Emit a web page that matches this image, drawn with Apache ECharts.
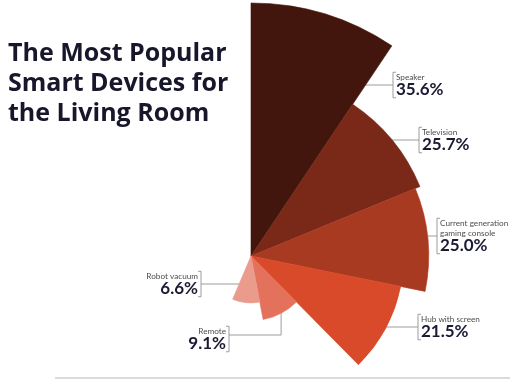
<!DOCTYPE html>
<html><head><meta charset="utf-8">
<script src="https://cdn.jsdelivr.net/npm/echarts@6/dist/echarts.min.js"></script>
<style>html,body{margin:0;padding:0;background:#fff}#c{width:510px;height:379px}</style>
</head><body><div id="c"></div>
<script>
// ---- data ----
const categories = ['Speaker', 'Television', 'Current generation\ngaming console', 'Hub with screen', 'Remote', 'Robot vacuum'];
const shares = [35.6, 25.7, 25.0, 21.5, 9.1, 6.6];
const titleText = 'The Most Popular\nSmart Devices for\nthe Living Room';

// ---- styling / layout ----
const colors = ['#42160c', '#7a2818', '#a93a22', '#d84a29', '#e3715b', '#eb9b8b'];
const labelPos = [
  { side: 'r', bx: 393, y: 85 },
  { side: 'r', bx: 419, y: 140 },
  { side: 'r', bx: 437, y: 236 },
  { side: 'r', bx: 418, y: 327 },
  { side: 'l', bx: 229, y: 335, ty: 339, drop: true },
  { side: 'l', bx: 201, y: 284 }
];
const guideColor = '#9c9c9c';

const chart = echarts.init(document.getElementById('c'), null, { renderer: 'canvas' });
const guides = [];

function inside(lay, x, y) {
  const dx = x - lay.cx, dy = y - lay.cy;
  const d = Math.hypot(dx, dy);
  if (d > lay.r || d < (lay.r0 || 0)) return false;
  let s = lay.startAngle, e = lay.endAngle;
  if (e < s) { const t = s; s = e; e = t; }
  let a = Math.atan2(dy, dx);
  while (a < s) a += Math.PI * 2;
  while (a > s + Math.PI * 2) a -= Math.PI * 2;
  return a <= e;
}
function edgeX(lay, y, side) {
  if (side === 'r') {
    for (let x = lay.cx + lay.r; x >= lay.cx - lay.r; x -= 0.25) if (inside(lay, x, y)) return x;
  } else {
    for (let x = lay.cx - lay.r; x <= lay.cx + lay.r; x += 0.25) if (inside(lay, x, y)) return x;
  }
  return lay.cx;
}

const baseGraphic = [{
  type: 'line', silent: true,
  shape: { x1: 55, y1: 378, x2: 510, y2: 378 },
  style: { stroke: '#cfcfcf', lineWidth: 1.5 }
}];

const option = {
  animation: false,
  backgroundColor: '#ffffff',
  title: {
    text: titleText,
    left: 8, top: 39, padding: 0,
    textStyle: { fontFamily: 'Open Sans', fontWeight: 'bold', fontSize: 25, lineHeight: 30, color: '#17162b' }
  },
  graphic: baseGraphic,
  polar: { center: [251, 256], radius: [0, 253] },
  angleAxis: {
    type: 'category', data: categories,
    startAngle: 90, endAngle: -113, clockwise: true,
    boundaryGap: true, show: false
  },
  radiusAxis: { type: 'value', min: 0, max: shares[0], show: false },
  series: [{
    type: 'bar',
    coordinateSystem: 'polar',
    barCategoryGap: '0%',
    barGap: '0%',
    emphasis: { disabled: true },
    data: shares.map((v, i) => ({ value: v, itemStyle: { color: colors[i], borderColor: colors[i], borderWidth: 0.6 } })),
    label: {
      show: true,
      position: 'middle',
      rotate: 0,
      formatter: p => '{n|' + p.name.split('\n').join('}\n{n|') + '}\n{v|' + p.value.toFixed(1) + '%}',
      rich: {
        n: { fontFamily: 'Lato', fontSize: 8.2, color: '#4d4d4d', lineHeight: 10 },
        v: { fontFamily: 'Lato', fontSize: 17, fontWeight: 'bold', color: '#1b1a33', lineHeight: 16 }
      }
    },
    labelLine: { show: false },
    labelLayout: function (p) {
      const i = p.dataIndex, L = labelPos[i];
      const lay = chart.getModel().getSeriesByIndex(0).getData().getItemLayout(i);
      const h = p.labelRect.height;
      const ty = L.ty != null ? L.ty : L.y;
      const top = ty - h / 2, bot = ty + h / 2;
      let start;
      if (L.drop) {
        const m = (lay.startAngle + lay.endAngle) / 2;
        start = [lay.cx + lay.r * Math.cos(m), lay.cy + lay.r * Math.sin(m)];
      } else {
        start = [edgeX(lay, L.y, L.side), L.y];
      }
      const d = L.side === 'r' ? 3 : -3;
      const pts = [start];
      if (L.drop) pts.push([start[0], L.y]);
      pts.push([L.bx, L.y]);
      guides[i] = { lead: pts, bracket: [[L.bx + d, top], [L.bx, top], [L.bx, bot], [L.bx + d, bot]] };
      return {
        x: L.bx + (L.side === 'r' ? 3 : -3),
        y: ty,
        rotate: 0,
        align: L.side === 'r' ? 'left' : 'right',
        verticalAlign: 'middle'
      };
    }
  }]
};
chart.setOption(option);

const guideGraphic = [];
guides.forEach(g => {
  if (!g) return;
  guideGraphic.push({ type: 'polyline', silent: true, shape: { points: g.lead }, style: { stroke: guideColor, lineWidth: 1, fill: null } });
  guideGraphic.push({ type: 'polyline', silent: true, shape: { points: g.bracket }, style: { stroke: guideColor, lineWidth: 1, fill: null } });
});
chart.setOption({ graphic: baseGraphic.concat(guideGraphic) }, { replaceMerge: ['graphic'] });
</script>
</body></html>
